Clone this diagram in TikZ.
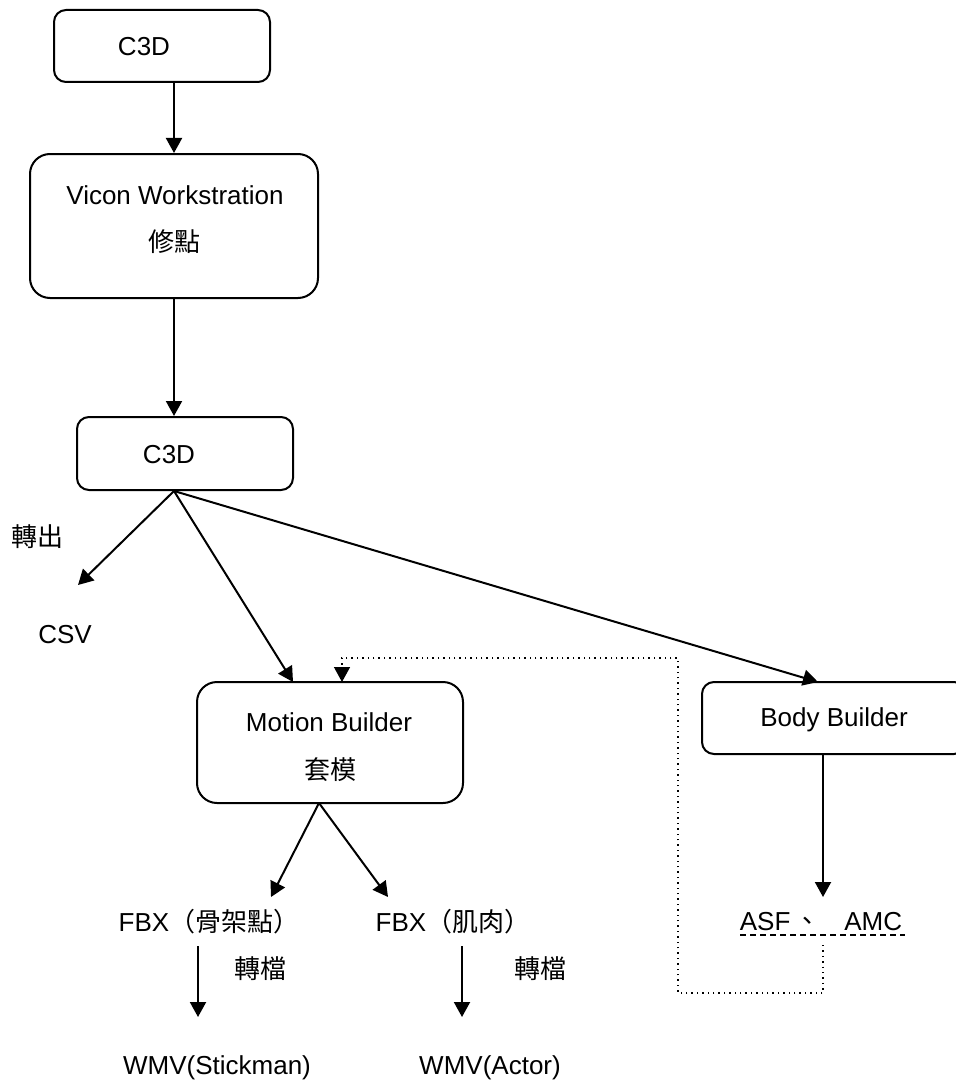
\documentclass[tikz,border=0pt]{standalone}
\usepackage{fontspec}
\setmainfont{Liberation Sans}
\newfontfamily\cjk{Noto Sans CJK TC}
\usepackage{tikz}
\usetikzlibrary{arrows.meta}

\begin{document}
\begin{tikzpicture}[x=0.5pt,y=-0.5pt,line width=1pt,
                    font=\fontsize{13}{16}\selectfont,
                    box/.style={draw,rounded corners=6pt,line width=1pt,inner sep=0pt},
                    txt/.style={inner sep=0pt},
                    arr/.style={-{Triangle[length=7.5pt,width=8pt]}}]
  \useasboundingbox (0,0) rectangle (955,1081);

  \node[box,minimum width=108pt,minimum height=36pt] (c3dtop) at (162,46) {};
  \node[txt] (c3dtoptext) at (144,47) {C3D};
  \node[box,rounded corners=10pt,minimum width=144pt,minimum height=72pt] (vicon) at (174,226) {};
  \node[txt] (vicontext) at (175,195) {Vicon Workstration};
  \node[txt] (fixtext) at (174,242) {\cjk 修點};
  \node[box,minimum width=108pt,minimum height=36.5pt] (c3dmid) at (185,453.5) {};
  \node[txt] (c3dmidtext) at (169,455) {C3D};
  \node[txt] (export) at (37,537) {\cjk 轉出};
  \node[txt] (csv) at (65,635) {CSV};
  \node[box,rounded corners=10pt,minimum width=133pt,minimum height=60.5pt] (mb) at (330,742.5) {};
  \node[txt] (mbtext) at (329,722) {Motion Builder};
  \node[txt] (fittext) at (330,770) {\cjk 套模};
  \node[box,minimum width=132pt,minimum height=36pt] (bb) at (834,718) {};
  \node[txt] (bbtext) at (834,720) {Body Builder};
  \node[txt] (fbxa) at (209,922) {FBX{\cjk （骨架點）}};
  \node[txt] (fbxb) at (453,922) {FBX{\cjk （肌肉）}};
  \node[txt] (asf) at (821,922) {ASF\hspace{2pt}{\cjk 、}\hspace{12pt}AMC};
  \node[txt] (conva) at (260,969) {\cjk 轉檔};
  \node[txt] (convb) at (540,969) {\cjk 轉檔};
  \node[txt] (wmva) at (217,1068) {WMV(Stickman)};
  \node[txt] (wmvb) at (490,1068) {WMV(Actor)};

  \coordinate (c3dout) at (c3dmid.south -| vicon.south);
  \coordinate (csvin) at (78,585);
  \coordinate (mbin) at (293,682);
  \coordinate (mbback) at (342,682);
  \coordinate (bbin) at (818,682);
  \coordinate (bbout) at (823,754);
  \coordinate (asfin) at (823,897);
  \coordinate (mbout) at (319,803);
  \coordinate (fbxain) at (271,897);
  \coordinate (fbxbin) at (388,897);
  \coordinate (fbxaout) at (198,946);
  \coordinate (wmvain) at (198,1017);
  \coordinate (fbxbout) at (462,946);
  \coordinate (wmvbin) at (462,1017);

  \path[arr]
    (c3dtop.south -| vicon.north) edge (vicon.north)
    (vicon.south) edge (vicon.south |- c3dmid.north)
    (c3dout) edge (csvin)
             edge (mbin)
             edge (bbin)
    (bbout) edge (asfin)
    (mbout) edge (fbxain)
            edge (fbxbin)
    (fbxaout) edge (wmvain)
    (fbxbout) edge (wmvbin);

  % underline and link back to Motion Builder
  \draw[dash pattern=on 3pt off 2pt] (740,935) -- (905,935);
  \draw[arr,dotted,line width=0.7pt] (823,945) -- (823,993) -- (678,993) -- (678,658)
    -- (mbback |- 0,658) -- (mbback);
\end{tikzpicture}
\end{document}
